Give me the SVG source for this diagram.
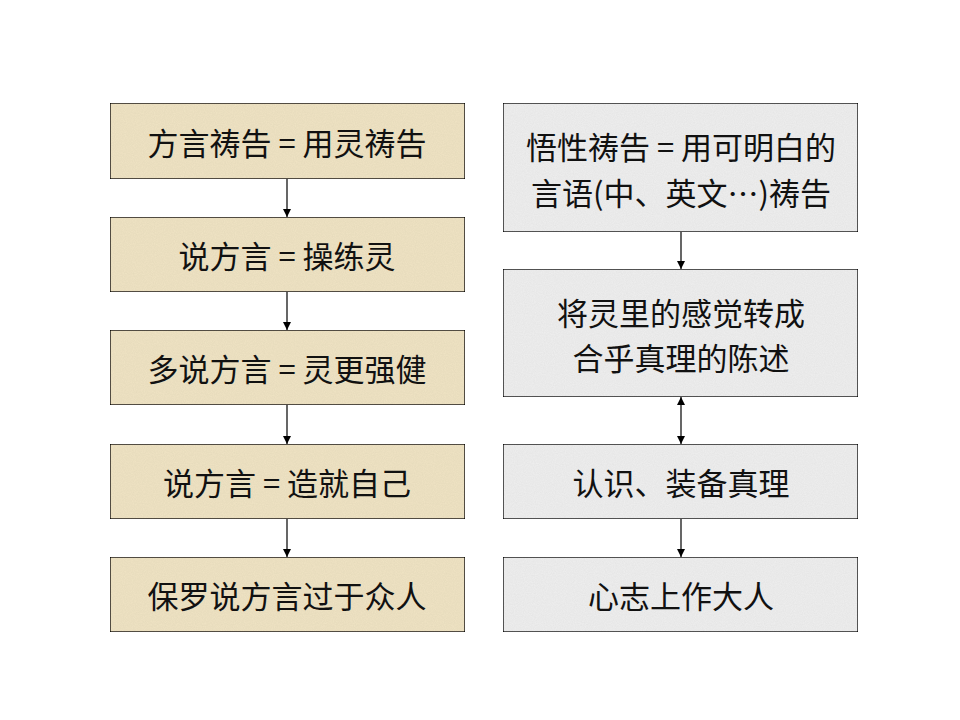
<svg xmlns="http://www.w3.org/2000/svg" width="960" height="720" viewBox="0 0 960 720">
<style>
.box{stroke:#000;stroke-width:1.3}
.tan{fill:#f0e4c4}
.grey{fill:#efefef}
.t{font-family:"Noto Sans CJK SC","Noto Sans CJK TC",sans-serif;font-size:31px;fill:#111;text-anchor:middle;dominant-baseline:central}
.c{stroke:#000;stroke-width:1.2;fill:none}
</style>
<defs>
<marker id="ah" viewBox="0 0 10 10" refX="10" refY="5" markerWidth="8" markerHeight="8" markerUnits="userSpaceOnUse" orient="auto-start-reverse"><path d="M0,0 L10,5 L0,10 z" fill="#000"/></marker>
<filter id="noise" x="0" y="0" width="1" height="1">
<feTurbulence type="fractalNoise" baseFrequency="0.9" numOctaves="2" seed="3" result="n"/>
<feColorMatrix in="n" type="matrix" values="0 0 0 0 0  0 0 0 0 0  0 0 0 0 0  0 0 0 0.1 0" result="d"/>
<feComposite in="d" in2="SourceGraphic" operator="in" result="m"/>
<feMerge><feMergeNode in="SourceGraphic"/><feMergeNode in="m"/></feMerge>
</filter>
</defs>
<rect width="960" height="720" fill="#fff"/>
<g id="connectors">
<line class="c" x1="287" y1="179" x2="287" y2="217" marker-end="url(#ah)"/>
<line class="c" x1="287" y1="292" x2="287" y2="330" marker-end="url(#ah)"/>
<line class="c" x1="287" y1="405" x2="287" y2="444" marker-end="url(#ah)"/>
<line class="c" x1="287" y1="519" x2="287" y2="557" marker-end="url(#ah)"/>
<line class="c" x1="681" y1="232" x2="681" y2="269" marker-end="url(#ah)"/>
<line class="c" x1="681" y1="397" x2="681" y2="444" marker-start="url(#ah)" marker-end="url(#ah)"/>
<line class="c" x1="681" y1="519" x2="681" y2="557" marker-end="url(#ah)"/>
</g>
<g id="L1"><rect class="box tan" x="110" y="103" width="355" height="76" filter="url(#noise)"/><text class="t" x="287" y="141">方言祷告 = 用灵祷告</text></g>
<g id="L2"><rect class="box tan" x="110" y="217" width="355" height="75" filter="url(#noise)"/><text class="t" x="287" y="254">说方言 = 操练灵</text></g>
<g id="L3"><rect class="box tan" x="110" y="330" width="355" height="75" filter="url(#noise)"/><text class="t" x="287" y="367">多说方言 = 灵更强健</text></g>
<g id="L4"><rect class="box tan" x="110" y="444" width="355" height="75" filter="url(#noise)"/><text class="t" x="287" y="481">说方言 = 造就自己</text></g>
<g id="L5"><rect class="box tan" x="110" y="557" width="355" height="75" filter="url(#noise)"/><text class="t" x="287" y="594">保罗说方言过于众人</text></g>
<g id="R1"><rect class="box grey" x="503" y="103" width="355" height="129" filter="url(#noise)"/><text class="t" x="681" y="145">悟性祷告 = 用可明白的</text><text class="t" x="681" y="191">言语(中、英文…)祷告</text></g>
<g id="R2"><rect class="box grey" x="503" y="269" width="355" height="128" filter="url(#noise)"/><text class="t" x="681" y="311">将灵里的感觉转成</text><text class="t" x="681" y="356">合乎真理的陈述</text></g>
<g id="R3"><rect class="box grey" x="503" y="444" width="355" height="75" filter="url(#noise)"/><text class="t" x="681" y="481">认识、装备真理</text></g>
<g id="R4"><rect class="box grey" x="503" y="557" width="355" height="75" filter="url(#noise)"/><text class="t" x="681" y="594">心志上作大人</text></g>
</svg>
